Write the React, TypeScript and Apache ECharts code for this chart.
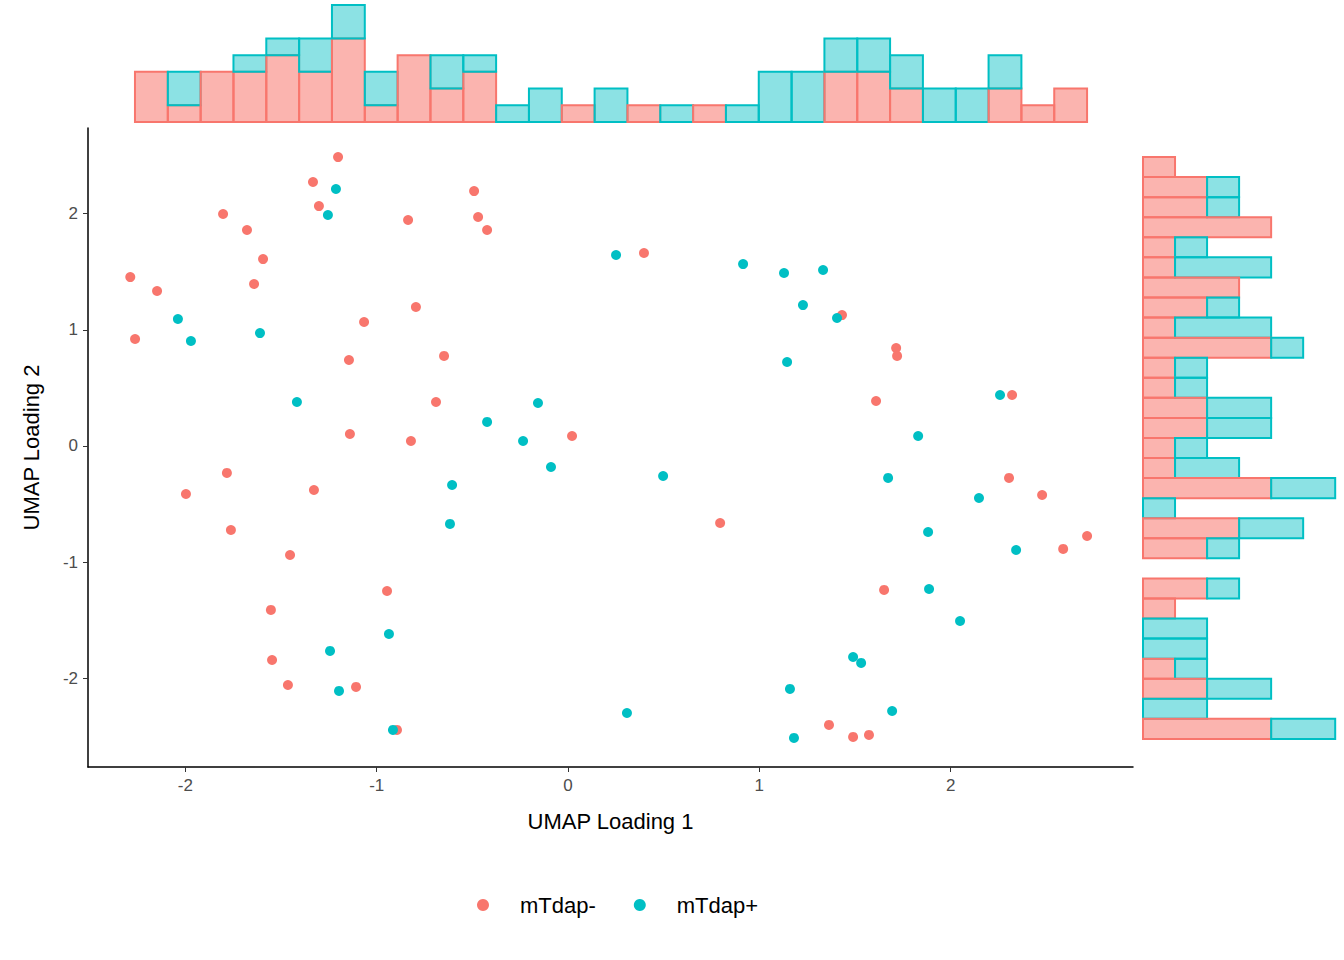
import React, { useEffect, useRef } from "react";
import * as echarts from "echarts";

const RED = "#F8766D";
const TEAL = "#00BFC4";

const redPoints: [number, number][] = [
  [-1.202, 2.487], [-1.333, 2.272], [-1.302, 2.065], [-0.491, 2.194], [-0.47, 1.971], [-0.423, 1.859],
  [-0.836, 1.945], [-1.803, 1.997], [-1.678, 1.859], [-1.594, 1.609], [-1.641, 1.394], [-2.288, 1.454],
  [-2.148, 1.334], [-2.263, 0.921], [-0.795, 1.196], [-1.066, 1.067], [-1.145, 0.74], [-0.648, 0.775],
  [-0.69, 0.379], [-1.14, 0.103], [-0.821, 0.043], [0.021, 0.086], [0.397, 1.661], [-1.783, -0.232],
  [-1.997, -0.413], [-1.328, -0.379], [-1.762, -0.723], [-1.453, -0.938], [-0.946, -1.248], [-1.553, -1.411],
  [-1.547, -1.842], [-1.464, -2.057], [-1.108, -2.074], [-0.894, -2.444], [0.795, -0.663], [1.432, 1.127],
  [1.715, 0.843], [1.72, 0.775], [1.61, 0.387], [2.321, 0.439], [2.305, -0.275], [2.478, -0.422],
  [2.713, -0.775], [2.588, -0.886], [1.652, -1.239], [1.364, -2.401], [1.49, -2.504], [1.573, -2.487],
];
const tealPoints: [number, number][] = [
  [-1.213, 2.212], [-1.255, 1.988], [-2.039, 1.093], [-1.971, 0.904], [-1.61, 0.972], [-1.417, 0.379],
  [0.251, 1.644], [0.915, 1.566], [1.129, 1.489], [1.333, 1.515], [1.228, 1.213], [1.406, 1.102],
  [1.145, 0.723], [-0.423, 0.207], [-0.157, 0.37], [-0.235, 0.043], [-0.089, -0.181], [-0.606, -0.336],
  [-0.617, -0.671], [0.497, -0.258], [1.83, 0.086], [2.258, 0.439], [1.673, -0.275], [2.148, -0.448],
  [1.882, -0.74], [2.342, -0.895], [1.887, -1.231], [2.049, -1.506], [-0.936, -1.618], [-1.244, -1.764],
  [-1.197, -2.108], [-0.915, -2.444], [0.308, -2.298], [1.49, -1.816], [1.532, -1.867], [1.16, -2.091],
  [1.694, -2.281], [1.181, -2.513],
];

// Top (x) histogram, bins left to right
const xBinStart = -2.2635;
const xBinWidth = 0.1716;
const xRedCounts = [3, 1, 3, 3, 4, 3, 5, 1, 4, 2, 3, 0, 0, 1, 0, 1, 0, 1, 0, 0, 0, 3, 3, 2, 0, 0, 2, 1, 2];
const xTealCounts = [0, 2, 0, 1, 1, 2, 2, 2, 0, 2, 1, 1, 2, 0, 2, 0, 1, 0, 1, 3, 3, 2, 2, 2, 2, 2, 2, 0, 0];

// Right (y) histogram, bins top to bottom
const yBinTop = 2.487;
const yBinHeight = 0.1727;
const yRedCounts = [1, 2, 2, 4, 1, 1, 3, 2, 1, 4, 1, 1, 2, 2, 1, 1, 4, 0, 3, 2, 0, 2, 1, 0, 0, 1, 2, 0, 4];
const yTealCounts = [0, 1, 1, 0, 1, 3, 0, 1, 3, 1, 1, 1, 2, 2, 1, 2, 2, 1, 2, 1, 0, 1, 0, 2, 2, 1, 2, 2, 2];

const xTicks = [-2, -1, 0, 1, 2];
const yTicks = [-2, -1, 0, 1, 2];

const X_MIN = -2.509, X_MAX = 2.953, Y_MIN = -2.763, Y_MAX = 2.737;

function buildX() {
  const out: number[][] = [];
  xRedCounts.forEach((r, i) => {
    const x0 = xBinStart + i * xBinWidth, x1 = x0 + xBinWidth;
    if (r > 0) out.push([x0, x1, 0, r, 0]);
    const t = xTealCounts[i];
    if (t > 0) out.push([x0, x1, r, r + t, 1]);
  });
  return out;
}
function buildY() {
  const out: number[][] = [];
  yRedCounts.forEach((r, i) => {
    const y1 = yBinTop - i * yBinHeight, y0 = y1 - yBinHeight;
    if (r > 0) out.push([0, r, y0, y1, 0]);
    const t = yTealCounts[i];
    if (t > 0) out.push([r, r + t, y0, y1, 1]);
  });
  return out;
}

const fills = ["rgba(248,118,109,0.55)", "rgba(0,191,196,0.45)"];
const strokes = [RED, TEAL];

function rectItem(params: any, api: any) {
  const p0 = api.coord([api.value(0), api.value(2)]);
  const p1 = api.coord([api.value(1), api.value(3)]);
  return {
    type: "rect",
    shape: { x: Math.min(p0[0], p1[0]), y: Math.min(p0[1], p1[1]), width: Math.abs(p1[0] - p0[0]), height: Math.abs(p1[1] - p0[1]) },
    style: { fill: fills[api.value(4)], stroke: strokes[api.value(4)], lineWidth: 2 },
  };
}

export default function App() {
  const ref = useRef<HTMLDivElement>(null);
  useEffect(() => {
    document.body.style.margin = "0";
    const chart = echarts.init(ref.current!, undefined, { renderer: "svg" });
    const axisLabel = { color: "#4d4d4d", fontSize: 17, fontFamily: "Liberation Sans" };
    chart.setOption({
      animation: false,
      backgroundColor: "#fff",
      textStyle: { fontFamily: "Liberation Sans" },
      grid: [
        { left: 88, top: 128, width: 1045, height: 639 },
        { left: 88, top: 0, width: 1045, height: 122 },
        { left: 1143, top: 128, width: 197, height: 639 },
      ],
      xAxis: [
        {
          gridIndex: 0, type: "value", min: X_MIN, max: X_MAX,
          name: "UMAP Loading 1", nameLocation: "middle", nameGap: 43,
          nameTextStyle: { fontSize: 22, color: "#000" },
          axisLine: { onZero: false, lineStyle: { color: "#000", width: 1.5 } },
          axisTick: { show: true, length: 5, lineStyle: { color: "#333" }, customValues: xTicks },
          axisLabel: { ...axisLabel, customValues: xTicks, margin: 10 },
          splitLine: { show: false },
        },
        { gridIndex: 1, type: "value", min: X_MIN, max: X_MAX, show: false },
        { gridIndex: 2, type: "value", min: 0, max: 6.15, show: false },
      ],
      yAxis: [
        {
          gridIndex: 0, type: "value", min: Y_MIN, max: Y_MAX,
          name: "UMAP Loading 2", nameLocation: "middle", nameGap: 46,
          nameTextStyle: { fontSize: 22, color: "#000" },
          axisLine: { show: true, onZero: false, lineStyle: { color: "#000", width: 1.5 } },
          axisTick: { show: true, length: 5, lineStyle: { color: "#333" }, customValues: yTicks },
          axisLabel: { ...axisLabel, customValues: yTicks, margin: 10 },
          splitLine: { show: false },
        },
        { gridIndex: 1, type: "value", min: 0, max: 7.3, show: false },
        { gridIndex: 2, type: "value", min: Y_MIN, max: Y_MAX, show: false },
      ],
      legend: {
        top: 889, left: 472, itemGap: 38, icon: "circle", itemWidth: 12, itemHeight: 12,
        textStyle: { fontSize: 22, color: "#000", padding: [0, 0, 0, 26] },
        data: ["mTdap-", "mTdap+"],
      },
      series: [
        { name: "mTdap-", type: "scatter", xAxisIndex: 0, yAxisIndex: 0, data: redPoints, symbolSize: 10, itemStyle: { color: RED, opacity: 1 } },
        { name: "mTdap+", type: "scatter", xAxisIndex: 0, yAxisIndex: 0, data: tealPoints, symbolSize: 10, itemStyle: { color: TEAL, opacity: 1 } },
        { type: "custom", xAxisIndex: 1, yAxisIndex: 1, data: buildX(), renderItem: rectItem, encode: { x: [0, 1], y: [2, 3] } },
        { type: "custom", xAxisIndex: 2, yAxisIndex: 2, data: buildY(), renderItem: rectItem, encode: { x: [0, 1], y: [2, 3] } },
      ],
    });
    return () => chart.dispose();
  }, []);
  return <div ref={ref} style={{ width: 1344, height: 960 }} />;
}
